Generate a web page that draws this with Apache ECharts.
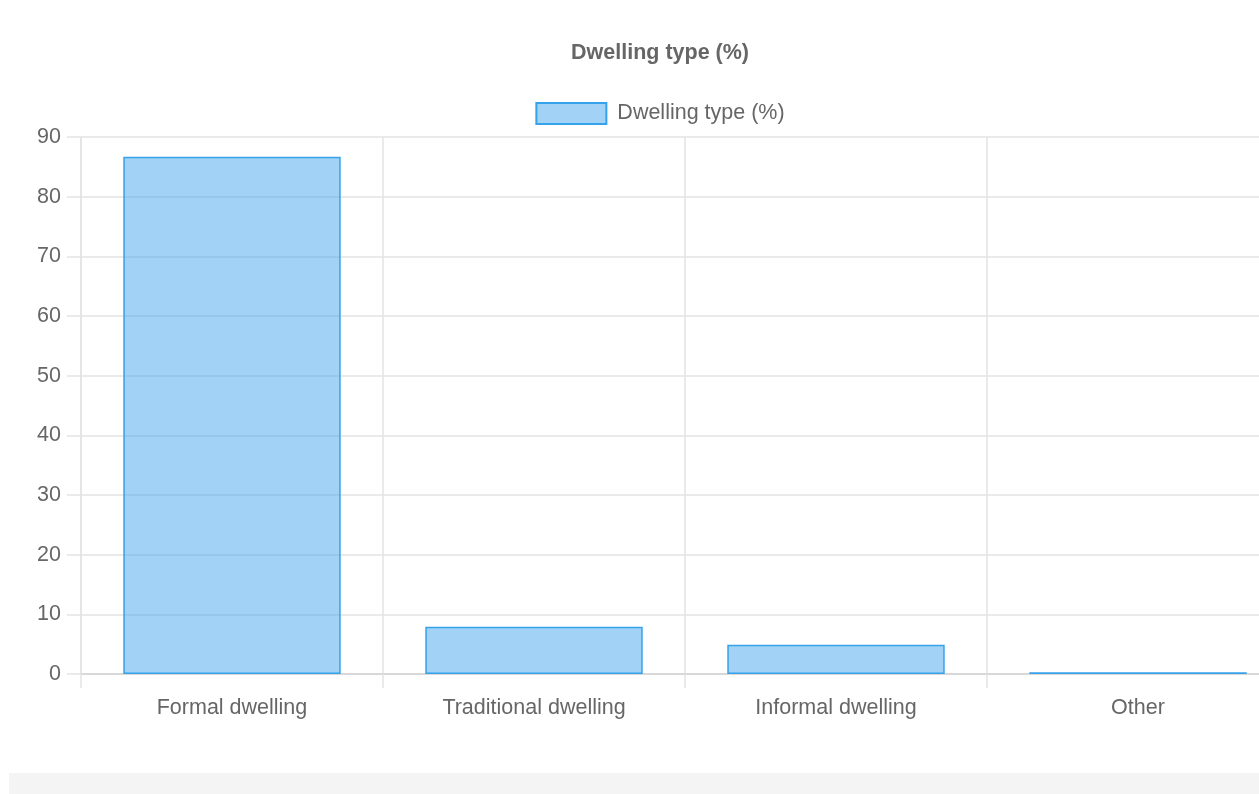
<!DOCTYPE html>
<html>
<head>
<meta charset="utf-8">
<script src="https://cdn.jsdelivr.net/npm/echarts@6/dist/echarts.min.js"></script>
<style>
  html, body { margin: 0; padding: 0; background: #fff; overflow: hidden; }
  body { width: 1259px; height: 794px; position: relative; }
  #chart { position: absolute; left: 0; top: 0; width: 1320px; height: 772px; }
  #strip { position: absolute; left: 9px; top: 773px; width: 1250px; height: 21px; background: #f4f4f4; }
</style>
</head>
<body>
<div id="chart"></div>
<div id="strip"></div>
<script>
// Dwelling type shares, in percent
const categories = ['Formal dwelling', 'Traditional dwelling', 'Informal dwelling', 'Other'];
const values = [86.7, 7.9, 4.9, 0.3];
const seriesName = 'Dwelling type (%)';
const yMin = 0;
const yMax = 90;
const yStep = 10;

const FONT = '"Liberation Sans", Arial, Helvetica, sans-serif';
const TEXT = '#666666';
const GRID = '#e3e3e3';

const chart = echarts.init(document.getElementById('chart'), null, { renderer: 'canvas' });
chart.setOption({
  animation: false,
  textStyle: { fontFamily: FONT },
  title: {
    text: seriesName,
    left: 655, textAlign: 'center',
    top: 37,
    textStyle: { fontFamily: FONT, fontSize: 21.5, fontWeight: 'bold', color: TEXT }
  },
  legend: {
    top: 97,
    left: 'center',
    icon: 'rect',
    itemWidth: 70,
    itemHeight: 21,
    itemGap: 10,
    textStyle: { fontFamily: FONT, fontSize: 21.5, color: TEXT, padding: [0, 0, 0, 6] },
    data: [seriesName]
  },
  grid: { left: 81, right: 31, top: 137, bottom: 98, containLabel: false },
  xAxis: {
    type: 'category',
    data: categories,
    boundaryGap: true,
    axisLine: { show: true, lineStyle: { color: '#d2d2d2', width: 1.5 } },
    axisTick: { show: true, length: 14, alignWithLabel: false, lineStyle: { color: GRID, width: 1.5 } },
    splitLine: { show: true, lineStyle: { color: GRID, width: 1.5 } },
    axisLabel: { fontFamily: FONT, fontSize: 21.5, color: TEXT, margin: 23 }
  },
  yAxis: {
    type: 'value',
    min: yMin, max: yMax, interval: yStep,
    axisLine: { show: true, lineStyle: { color: GRID, width: 1.5 } },
    axisTick: { show: true, length: 14, lineStyle: { color: GRID, width: 1.5 } },
    splitLine: { show: true, lineStyle: { color: GRID, width: 1.5 } },
    axisLabel: { fontFamily: FONT, fontSize: 21.5, color: TEXT, margin: 20 }
  },
  series: [{
    name: seriesName,
    type: 'bar',
    data: values,
    barWidth: '72%',
    itemStyle: {
      color: 'rgba(60, 160, 235, 0.48)',
      borderColor: 'rgb(54, 162, 235)',
      borderWidth: 1.5
    }
  }]
});
</script>
</body>
</html>
